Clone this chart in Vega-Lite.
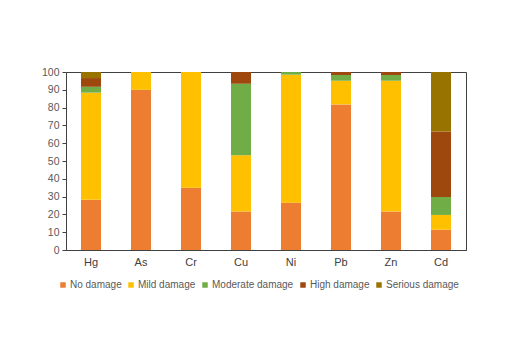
{
  "$schema": "https://vega.github.io/schema/vega-lite/v6.json",
  "autosize": {"type": "none"},
  "padding": {"left": 66, "top": 72, "right": 47, "bottom": 113},
  "width": 400,
  "height": 178,
  "background": "white",
  "config": {
    "font": "Liberation Sans",
    "view": {"stroke": "#404040", "strokeWidth": 1}
  },
  "data": {
    "values": [
      {"metal": "Hg", "damage": "No damage", "level": 0, "value": 28.2},
      {"metal": "Hg", "damage": "Mild damage", "level": 1, "value": 60.2},
      {"metal": "Hg", "damage": "Moderate damage", "level": 2, "value": 3.3},
      {"metal": "Hg", "damage": "High damage", "level": 3, "value": 4.9},
      {"metal": "Hg", "damage": "Serious damage", "level": 4, "value": 3.4},
      {"metal": "As", "damage": "No damage", "level": 0, "value": 90.0},
      {"metal": "As", "damage": "Mild damage", "level": 1, "value": 10.0},
      {"metal": "Cr", "damage": "No damage", "level": 0, "value": 35.0},
      {"metal": "Cr", "damage": "Mild damage", "level": 1, "value": 65.0},
      {"metal": "Cu", "damage": "No damage", "level": 0, "value": 21.6},
      {"metal": "Cu", "damage": "Mild damage", "level": 1, "value": 31.7},
      {"metal": "Cu", "damage": "Moderate damage", "level": 2, "value": 40.1},
      {"metal": "Cu", "damage": "High damage", "level": 3, "value": 6.6},
      {"metal": "Ni", "damage": "No damage", "level": 0, "value": 26.6},
      {"metal": "Ni", "damage": "Mild damage", "level": 1, "value": 71.9},
      {"metal": "Ni", "damage": "Moderate damage", "level": 2, "value": 1.5},
      {"metal": "Pb", "damage": "No damage", "level": 0, "value": 81.8},
      {"metal": "Pb", "damage": "Mild damage", "level": 1, "value": 13.3},
      {"metal": "Pb", "damage": "Moderate damage", "level": 2, "value": 3.2},
      {"metal": "Pb", "damage": "High damage", "level": 3, "value": 1.7},
      {"metal": "Zn", "damage": "No damage", "level": 0, "value": 21.6},
      {"metal": "Zn", "damage": "Mild damage", "level": 1, "value": 73.5},
      {"metal": "Zn", "damage": "Moderate damage", "level": 2, "value": 3.2},
      {"metal": "Zn", "damage": "High damage", "level": 3, "value": 1.7},
      {"metal": "Cd", "damage": "No damage", "level": 0, "value": 11.4},
      {"metal": "Cd", "damage": "Mild damage", "level": 1, "value": 8.3},
      {"metal": "Cd", "damage": "Moderate damage", "level": 2, "value": 10.1},
      {"metal": "Cd", "damage": "High damage", "level": 3, "value": 36.8},
      {"metal": "Cd", "damage": "Serious damage", "level": 4, "value": 33.4}
    ]
  },
  "mark": {"type": "bar"},
  "encoding": {
    "x": {
      "field": "metal",
      "type": "nominal",
      "sort": ["Hg", "As", "Cr", "Cu", "Ni", "Pb", "Zn", "Cd"],
      "scale": {"paddingInner": 0.6, "paddingOuter": 0.3},
      "axis": {
        "title": null,
        "labelAngle": 0,
        "labelFontSize": 11,
        "labelColor": "#404040",
        "labelPadding": 6,
        "ticks": false,
        "domainColor": "#404040"
      }
    },
    "y": {
      "field": "value",
      "type": "quantitative",
      "stack": "zero",
      "scale": {"domain": [0, 100], "nice": false},
      "axis": {
        "title": null,
        "values": [0, 10, 20, 30, 40, 50, 60, 70, 80, 90, 100],
        "grid": false,
        "labelFontSize": 10.5,
        "labelColor": "#595959",
        "tickSize": 4,
        "tickColor": "#404040",
        "domainColor": "#404040",
        "labelPadding": 3
      }
    },
    "color": {
      "field": "damage",
      "type": "nominal",
      "scale": {
        "domain": ["No damage", "Mild damage", "Moderate damage", "High damage", "Serious damage"],
        "range": ["#ED7D31", "#FFC000", "#70AD47", "#9E480E", "#997300"]
      },
      "legend": {
        "title": null,
        "orient": "none",
        "direction": "horizontal",
        "legendX": -8,
        "legendY": 208,
        "symbolType": "square",
        "symbolSize": 30,
        "symbolStrokeWidth": 0,
        "labelFontSize": 10,
        "labelColor": "#595959",
        "labelOffset": 2,
        "columnPadding": 4
      }
    },
    "order": {"field": "level", "type": "quantitative", "sort": "ascending"}
  }
}
